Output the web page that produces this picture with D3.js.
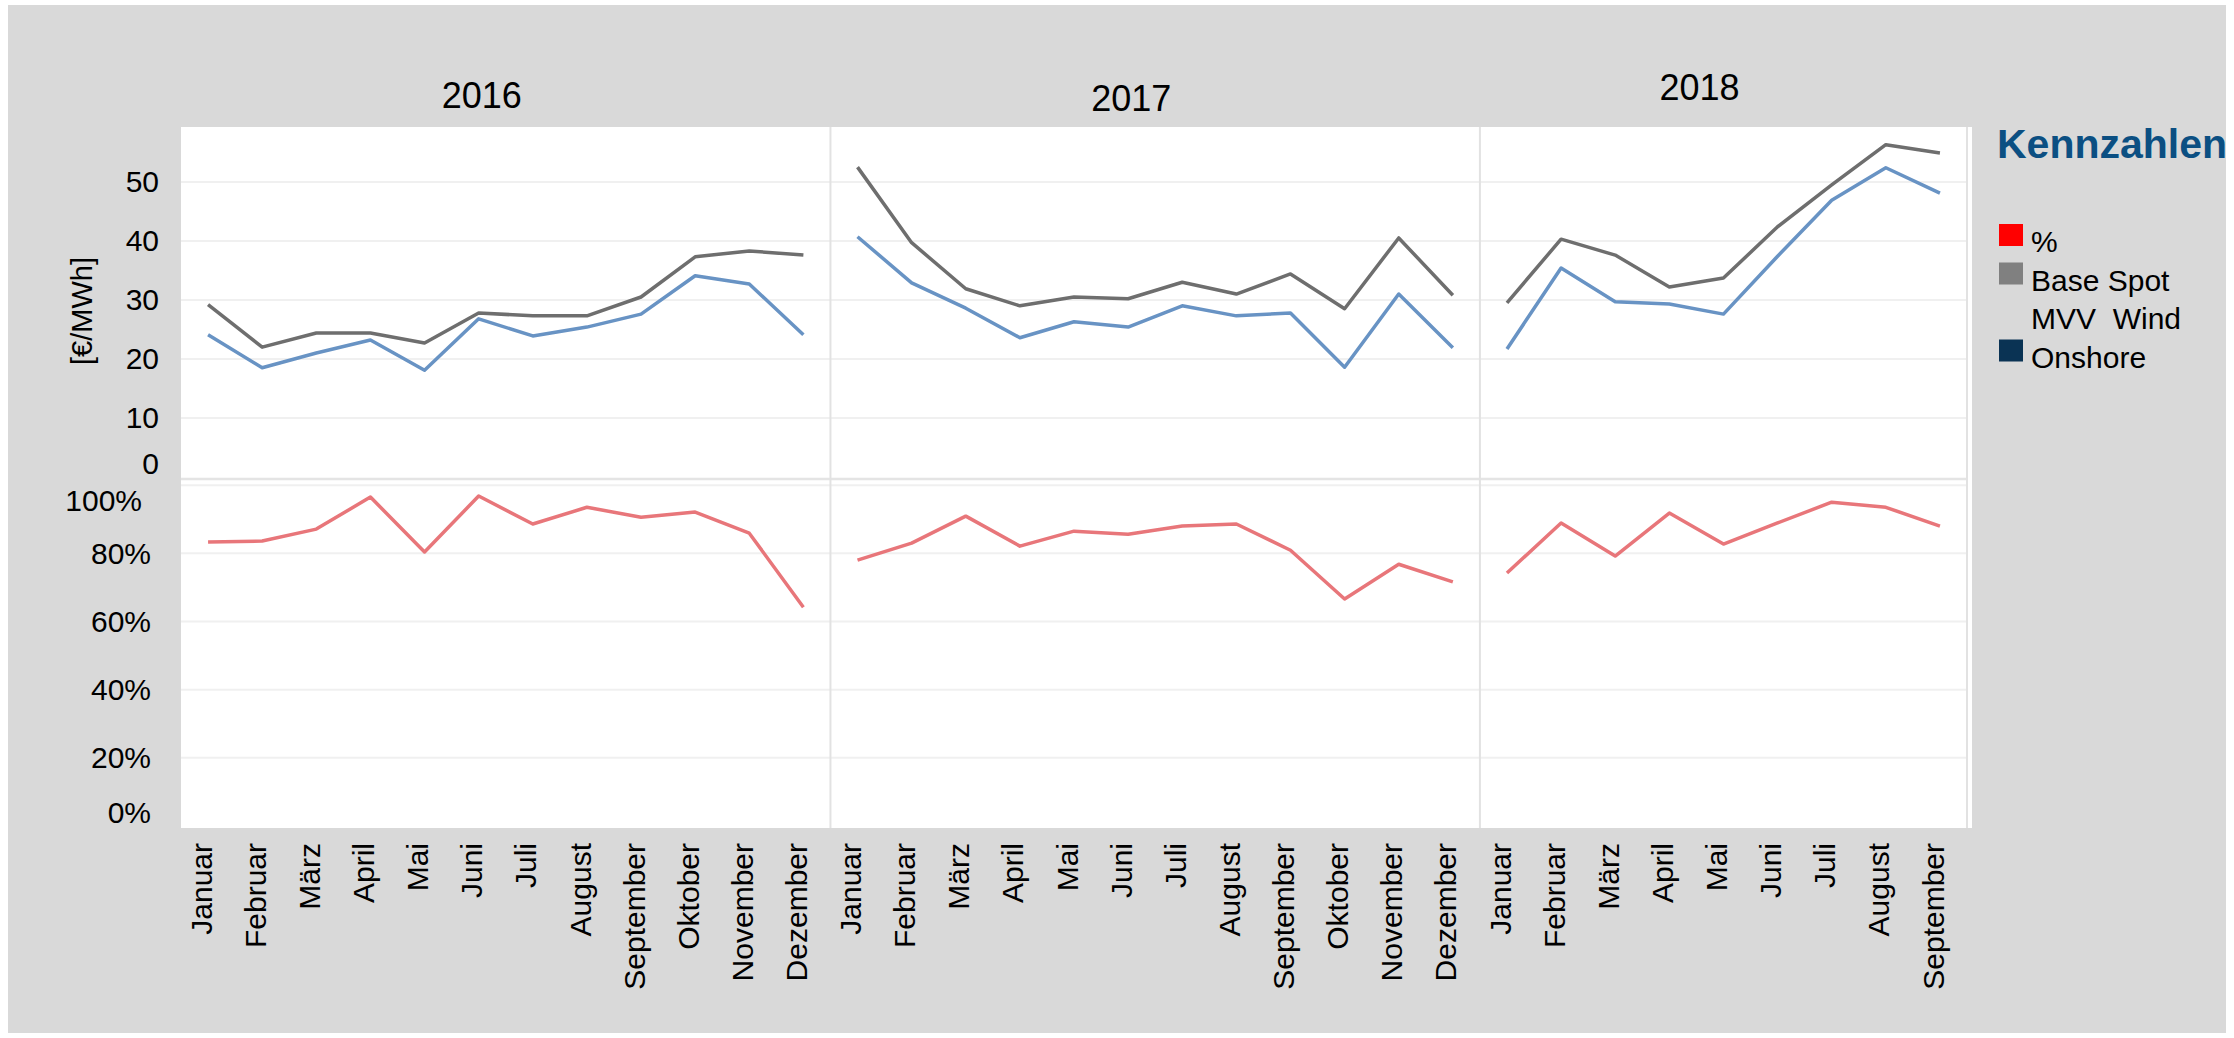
<!DOCTYPE html>
<html>
<head>
<meta charset="utf-8">
<script src="https://cdn.jsdelivr.net/npm/d3@7"></script>
<style>
body { margin: 0; background: #fff; }
text { font-family: "Liberation Sans", Arial, sans-serif; }
</style>
</head>
<body>
<div id="chart"></div>
<script>
const years = ["2016", "2017", "2018"];
const months = ["Januar", "Februar", "März", "April", "Mai", "Juni", "Juli",
    "August", "September", "Oktober", "November", "Dezember"];

// [€/MWh]
const baseSpot2016 = [29.2, 22.0, 24.4, 24.4, 22.7, 27.8, 27.3, 27.3, 30.5, 37.3, 38.3, 37.6];
const baseSpot2017 = [52.5, 39.7, 31.9, 29.0, 30.5, 30.2, 33.0, 31.0, 34.4, 28.5, 40.5, 30.8];
const baseSpot2018 = [29.5, 40.3, 37.6, 32.2, 33.7, 42.4, 49.5, 56.3, 54.9];

const wind2016 = [24.1, 18.5, 21.0, 23.2, 18.1, 26.8, 23.9, 25.4, 27.6, 34.1, 32.7, 24.1];
const wind2017 = [40.7, 32.9, 28.6, 23.6, 26.3, 25.4, 29.0, 27.3, 27.8, 18.6, 31.0, 21.9];
const wind2018 = [21.7, 35.4, 29.7, 29.3, 27.6, 37.4, 46.9, 52.4, 48.1];

// ratio wind / base
const pct2016 = [0.833, 0.836, 0.871, 0.965, 0.804, 0.968, 0.886, 0.935, 0.906, 0.921, 0.859, 0.642];
const pct2017 = [0.780, 0.830, 0.909, 0.821, 0.865, 0.856, 0.880, 0.886, 0.809, 0.666, 0.768, 0.716];
const pct2018 = [0.742, 0.889, 0.792, 0.918, 0.827, 0.889, 0.950, 0.935, 0.880];

const priceTicks = [0, 10, 20, 30, 40, 50];
const pctTicks = [0, 0.2, 0.4, 0.6, 0.8, 1.0];

const legendTitle = "Kennzahlen";
const legendItems = [
    {lines: ["%"], color: "#ff0000"},
    {lines: ["Base Spot"], color: "#808080"},
    {lines: ["MVV  Wind", "Onshore"], color: "#0a3354"}
];

const baseSpot = [baseSpot2016, baseSpot2017, baseSpot2018];
const wind = [wind2016, wind2017, wind2018];
const pct = [pct2016, pct2017, pct2018];

const w = 2234, h = 1038;
const left = 181, right = 1967;
const paneTop = 127, paneMid = 479, paneBottom = 828;
const step = (right - left) / d3.sum(baseSpot, d => d.length);

let svg = d3.select("#chart")
    .append("svg")
    .attr("width", w)
    .attr("height", h);

svg.append("rect")
    .attr("x", 8).attr("y", 5)
    .attr("width", 2218).attr("height", 1028)
    .attr("fill", "#d9d9d9");

svg.append("rect")
    .attr("x", left).attr("y", paneTop)
    .attr("width", right - left + 5).attr("height", paneBottom - paneTop)
    .attr("fill", "#fff");

const yPrice = d3.scaleLinear().domain([0, 59.3]).range([paneMid - 2, paneTop]);
const yPct = d3.scaleLinear().domain([0, 1.018]).range([paneBottom - 2, paneMid]);

// grid
const grid = svg.append("g").attr("stroke", "#f0f0f0").attr("stroke-width", 2);
grid.selectAll(".gp")
    .data(priceTicks.filter(d => d > 0))
    .join("line")
    .attr("x1", left).attr("x2", right)
    .attr("y1", d => yPrice(d)).attr("y2", d => yPrice(d));
grid.selectAll(".gq")
    .data(pctTicks.filter(d => d > 0))
    .join("line")
    .attr("class", "gq")
    .attr("x1", left).attr("x2", right)
    .attr("y1", d => yPct(d)).attr("y2", d => yPct(d));

// panels
let x0 = left;
const panels = years.map((year, i) => {
    const n = baseSpot[i].length;
    const x = d3.scalePoint()
        .domain(months.slice(0, n))
        .range([x0, x0 + n * step])
        .padding(0.5);
    const p = {year: year, i: i, x: x, x0: x0, x1: x0 + n * step};
    x0 += n * step;
    return p;
});

// separators
svg.append("line")
    .attr("x1", left).attr("x2", right)
    .attr("y1", paneMid).attr("y2", paneMid)
    .attr("stroke", "#e4e4e4").attr("stroke-width", 2.5);

svg.selectAll(".divider")
    .data(panels.slice(1).map(p => p.x0).concat([right]))
    .join("line")
    .attr("x1", d => d).attr("x2", d => d)
    .attr("y1", paneTop).attr("y2", paneBottom)
    .attr("stroke", "#e2e2e2").attr("stroke-width", 2);

panels.forEach(p => {
    const g = svg.append("g");
    const m = months.slice(0, baseSpot[p.i].length);

    const linePrice = d3.line()
        .x((d, j) => p.x(m[j]))
        .y(d => yPrice(d));
    const linePct = d3.line()
        .x((d, j) => p.x(m[j]))
        .y(d => yPct(d));

    g.append("path")
        .attr("d", linePct(pct[p.i]))
        .attr("fill", "none")
        .attr("stroke", "#e8767a")
        .attr("stroke-width", 3.5)
        .attr("stroke-linejoin", "round");

    g.append("path")
        .attr("d", linePrice(wind[p.i]))
        .attr("fill", "none")
        .attr("stroke", "#6893c4")
        .attr("stroke-width", 3.5)
        .attr("stroke-linejoin", "round");

    g.append("path")
        .attr("d", linePrice(baseSpot[p.i]))
        .attr("fill", "none")
        .attr("stroke", "#6e6e6e")
        .attr("stroke-width", 3.5)
        .attr("stroke-linejoin", "round");

    // month labels
    g.selectAll(".month")
        .data(m)
        .join("text")
        .attr("transform", d => `translate(${p.x(d)},843) rotate(-90)`)
        .attr("dy", "0.12em")
        .attr("text-anchor", "end")
        .attr("font-size", 30)
        .attr("fill", "#000")
        .text(d => d);
});

// year headers
const titleBaseline = [108, 111, 100];
svg.selectAll(".year")
    .data(panels)
    .join("text")
    .attr("x", d => (d.x0 + d.x1) / 2 - 24)
    .attr("y", d => titleBaseline[d.i])
    .attr("text-anchor", "middle")
    .attr("font-size", 36)
    .attr("fill", "#000")
    .text(d => d.year);

// y axes
const clamp = (v, top, bottom) => Math.max(top + 21, Math.min(bottom - 16, v));
svg.selectAll(".tp")
    .data(priceTicks)
    .join("text")
    .attr("x", 159)
    .attr("y", d => clamp(yPrice(d), paneTop, paneMid))
    .attr("dy", "0.35em")
    .attr("text-anchor", "end")
    .attr("font-size", 30)
    .text(d => d);

svg.selectAll(".tq")
    .data(pctTicks)
    .join("text")
    .attr("x", d => d == 1 ? 142 : 151)
    .attr("y", d => clamp(yPct(d), paneMid, paneBottom))
    .attr("dy", "0.35em")
    .attr("text-anchor", "end")
    .attr("font-size", 30)
    .text(d => d3.format(".0%")(d));

svg.append("text")
    .attr("transform", "translate(82,311) rotate(-90)")
    .attr("dy", "0.35em")
    .attr("text-anchor", "middle")
    .attr("font-size", 29)
    .text("[€/MWh]");

// legend
svg.append("text")
    .attr("x", 1997).attr("y", 158)
    .attr("font-size", 41)
    .attr("font-weight", "bold")
    .attr("fill", "#0b4f82")
    .text(legendTitle);

let baseline = 252;
legendItems.forEach(item => {
    item.lines.forEach((t, k) => {
        svg.append("text")
            .attr("x", 2031).attr("y", baseline)
            .attr("font-size", 30)
            .style("white-space", "pre")
            .text(t);
        if (k == item.lines.length - 1)
            svg.append("rect")
                .attr("x", 1999).attr("y", baseline - 28)
                .attr("width", 24).attr("height", 22)
                .attr("fill", item.color);
        baseline += 38.5;
    });
});
</script>
</body>
</html>
